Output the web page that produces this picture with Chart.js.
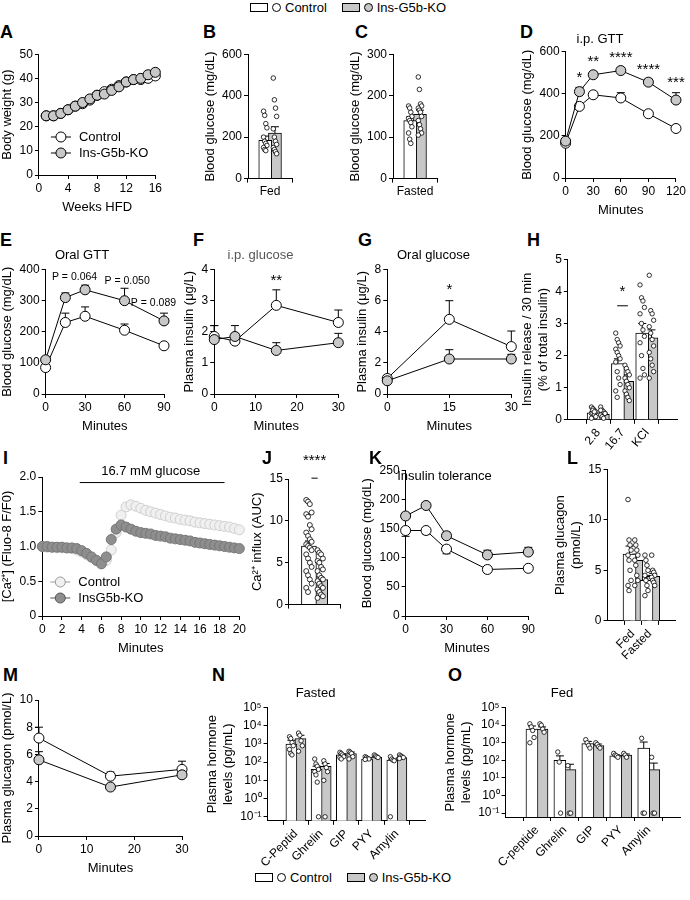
<!DOCTYPE html>
<html><head><meta charset="utf-8">
<script src="https://cdn.jsdelivr.net/npm/chart.js@4/dist/chart.umd.min.js"></script>
<style>
body{margin:0;background:#fff;font-family:"Liberation Sans",Arial,sans-serif;}
#root{position:relative;width:690px;height:900px;overflow:hidden;}
canvas{position:absolute;}
.lab{position:absolute;font-weight:bold;font-size:18px;}
.leg{position:absolute;font-size:13px;display:flex;align-items:center;gap:4px;}
.box{display:inline-block;width:16px;height:7px;border:1px solid #000;}
.dot{display:inline-block;width:7px;height:7px;border:1px solid #000;border-radius:50%;}
</style></head><body><div id="root">
<div class="leg" style="left:250px;top:0px"><span class="box"></span><span class="dot"></span>Control&nbsp;&nbsp;&nbsp;<span class="box" style="background:#c8c8c8"></span><span class="dot" style="background:#c8c8c8"></span>Ins-G5b-KO</div>
<div class="leg" style="left:255px;top:870px"><span class="box"></span><span class="dot"></span>Control&nbsp;&nbsp;&nbsp;<span class="box" style="background:#c8c8c8"></span><span class="dot" style="background:#c8c8c8"></span>Ins-G5b-KO</div>
</div>
<script>
// ---------- DATA ----------
const A_weeks=[1,2,3,4,5,6,7,8,9,10,11,12,13,14,15,16];
const A_ctrl=[24.5,24.5,25.5,27,28.5,29.5,31,33,34.5,35.5,37,38.5,39.5,39.5,40,41];
const A_ko=[24.5,24.5,25.5,27,28.5,30,31.5,33,33.5,35,36.5,38.5,39.5,40,41.5,42.5];
const B_ctrl=[185],B_ctrlErr=[20],B_ko=[220],B_koErr=[30];
const B_ctrlDots=[[325,305,265,245,200,180,170,160,150,140,135]];
const B_koDots=[[485,380,340,300,240,200,180,165,150,140,130,120]];
const C_ctrl=[140],C_ctrlErr=[9],C_ko=[155],C_koErr=[10];
const C_ctrlDots=[[175,170,160,150,145,140,135,125,110,95,85]];
const C_koDots=[[245,215,180,175,170,165,160,150,140,130,120,110,105]];
const D_t=[0,15,30,60,90,120];
const D_ctrl=[165,340,395,380,305,235],D_ctrlErr=[10,10,15,25,15,15];
const D_ko=[175,410,490,510,455,370],D_koErr=[10,20,15,15,15,35];
const E_t=[0,15,30,60,90];
const E_ctrl=[85,230,250,205,155],E_ctrlErr=[5,30,30,20,5];
const E_ko=[110,310,335,300,235],E_koErr=[10,15,15,40,25];
const F_t=[0,5,15,30];
const F_ctrl=[1.85,1.7,2.85,2.3],F_ctrlErr=[0.35,0.5,0.5,0.4];
const F_ko=[1.75,1.85,1.4,1.65],F_koErr=[0.45,0.1,0.25,0.3];
const G_t=[0,15,30];
const G_ctrl=[1.0,4.8,3.05],G_ctrlErr=[0.2,1.2,1.0];
const G_ko=[0.85,2.25,2.25],G_koErr=[0.2,0.6,0.3];
const H_cats=['2.8','16.7','KCl'];
const H_ctrl=[0.22,1.75,2.7],H_ctrlErr=[0.05,0.15,0.3],H_ko=[0.17,1.2,2.55],H_koErr=[0.05,0.2,0.25];
const H_ctrlDots=[[0.4,0.35,0.3,0.25,0.2,0.2,0.15,0.1,0.05,0.3,0.25],[2.7,2.5,2.4,2.3,2.2,2.1,2.0,1.9,1.8,1.5,1.3,1.1,0.9,0.7],[4.2,3.8,3.7,3.5,3.3,3.0,2.8,2.6,2.4,2.0,1.6,1.4,1.3]];
const H_koDots=[[0.4,0.3,0.25,0.2,0.15,0.1,0.05,0.2,0.3],[1.7,1.6,1.5,1.4,1.3,1.2,1.1,1.0,0.9,0.8,0.7,0.6],[4.5,3.4,3.3,3.1,2.9,2.7,2.5,2.3,2.1,1.9,1.7,1.5,1.3]];
const I_t=[0,0.5,1,1.5,2,2.5,3,3.5,4,4.5,5,5.5,6,6.5,7,7.5,8,8.5,9,9.5,10,10.5,11,11.5,12,12.5,13,13.5,14,14.5,15,15.5,16,16.5,17,17.5,18,18.5,19,19.5,20];
const I_ctrl=[1.0,0.99,0.99,0.98,0.98,0.98,0.97,0.95,0.92,0.88,0.84,0.8,0.76,0.8,0.95,1.2,1.45,1.57,1.6,1.58,1.55,1.52,1.5,1.48,1.46,1.44,1.42,1.41,1.39,1.38,1.37,1.35,1.34,1.33,1.32,1.31,1.3,1.29,1.28,1.26,1.24];
const I_ko=[1.0,1.0,0.99,0.99,0.99,0.98,0.98,0.97,0.94,0.9,0.85,0.8,0.75,0.85,1.1,1.25,1.31,1.28,1.25,1.22,1.2,1.19,1.18,1.16,1.15,1.14,1.12,1.11,1.1,1.09,1.08,1.06,1.05,1.04,1.03,1.02,1.01,1.0,0.99,0.98,0.97];
const J_ctrl=[7.0],J_ctrlErr=[0.6],J_ko=[3.0],J_koErr=[0.3];
const J_ctrlDots=[[12.5,12.3,12.0,11.0,10.8,10.5,9.5,9.0,8.6,8.2,7.8,7.5,7.2,7.0,6.8,6.5,6.0,5.5,5.0,4.5,4.0,3.5,3.0,2.5,2.0,1.5]];
const J_koDots=[[6.5,6.2,6.0,5.5,5.2,5.0,4.5,4.2,4.0,3.5,3.2,3.0,2.8,2.5,2.2,2.0,1.8,1.5,1.2,1.0,0.8]];
const K_t=[0,15,30,60,90];
const K_ctrl=[147,147,115,80,82],K_ctrlErr=[-10,-6,-8,-3,-3];
const K_ko=[172,190,138,105,110],K_koErr=[5,5,6,8,8];
const L_cats=['Fed','Fasted'];
const L_ctrl=[6.6,4.0],L_ctrlErr=[0.8,0.5],L_ko=[6.0,4.4],L_koErr=[0.6,0.3];
const L_ctrlDots=[[12,8,7.5,7,6.5,6,5,4,3.5,3],[6.5,6,5.5,5,4.5,4,3.5,3,2.5]];
const L_koDots=[[8,7.5,7,6.5,6,5.5,4.5,4,3.5],[6.5,5,4.8,4.5,4.3,4,3.8,3.5]];
const M_t=[0,15,30];
const M_ctrl=[7.2,4.4,4.9],M_ctrlErr=[0.8,0.3,0.6],M_ko=[5.6,3.6,4.5],M_koErr=[0.6,0.2,0.2];
const N_cats=['C-Peptid','Ghrelin','GIP','PYY','Amylin'];
const N_ctrl=[1000,40,250,150,130],N_ctrlErr=[600,20,40,15,15];
const N_ko=[2000,60,300,190,180],N_koErr=[1000,25,60,20,20];
const N_ctrlDots=[[2500,2000,1200,800,500,300,250],[150,80,60,40,30,20,8,0.1],[350,300,250,200,180,150],[200,180,160,150,140],[200,150,130,120,0.1]];
const N_koDots=[[4000,3000,1500,800,400],[120,80,50,30,10,0.1],[400,350,300,200,150],[250,220,200,180],[250,220,200,180,160]];
const O_cats=['C-peptide','Ghrelin','GIP','PYY','Amylin'];
const O_ctrl=[6000,100,900,180,500],O_ctrlErr=[3000,80,300,30,600];
const O_ko=[6000,30,700,200,30],O_koErr=[2000,30,150,30,40];
const O_ctrlDots=[[12000,8000,5000,2000,1000],[300,80,0.1],[1500,1000,700,500],[250,200,180,150],[1800,0.1,0.1]];
const O_koDots=[[12000,10000,6000,4000],[50,0.1,0.1],[1000,800,600,500],[250,200,150],[150,0.1,0.1]];
const logTicks=[0.1,1,10,100,1000,10000,100000];
const logLabels={0.1:'10⁻¹',1:'10⁰',10:'10¹',100:'10²',1000:'10³',10000:'10⁴',100000:'10⁵'};

// ---------- RENDERING ----------
const FONT='"Liberation Sans", Arial, sans-serif';
Chart.defaults.font.family=FONT;Chart.defaults.font.size=12;Chart.defaults.color='#000';
Chart.defaults.animation=false;
const TF=13;
const KO='#c8c8c8';
const EXTRA={};
const extras={id:'extras',
 beforeDatasetsDraw(chart){const c=chart.ctx,xs=chart.scales.x,ys=chart.scales.y;
  c.save();c.strokeStyle='#000';c.lineWidth=1;
  chart.data.datasets.forEach(ds=>{if(!ds.err)return;ds.data.forEach((p,i)=>{const e=ds.err[i];if(!e)return;
   const x=xs.getPixelForValue(p.x),y0=ys.getPixelForValue(p.y),y1=ys.getPixelForValue(p.y+e);
   c.beginPath();c.moveTo(x,y0);c.lineTo(x,y1);c.moveTo(x-4,y1);c.lineTo(x+4,y1);c.stroke();});});
  c.restore();},
 afterDraw(chart){const ex=EXTRA[chart.canvas.id];if(!ex)return;const c=chart.ctx,xs=chart.scales.x,ys=chart.scales.y;
  c.save();c.fillStyle='#000';c.strokeStyle='#000';c.lineWidth=1;c.textAlign='center';c.textBaseline='bottom';
  (ex.notes||[]).forEach(n=>{c.font=(n.size||12)+'px '+FONT;c.fillText(n.t,xs.getPixelForValue(n.x),ys.getPixelForValue(n.y));});
  (ex.lines||[]).forEach(l=>{const y=ys.getPixelForValue(l.y);c.beginPath();c.moveTo(xs.getPixelForValue(l.x1),y);c.lineTo(xs.getPixelForValue(l.x2),y);c.stroke();});
  if(ex.leg){const L=ex.leg;let x=chart.chartArea.left+L.dx,y=chart.chartArea.bottom-L.dy;
   L.items.forEach((it,k)=>{const yy=y+k*16;c.strokeStyle=it.stroke||'#000';c.beginPath();c.moveTo(x,yy);c.lineTo(x+20,yy);c.stroke();
    c.beginPath();c.arc(x+10,yy,5,0,Math.PI*2);c.fillStyle=it.fill;c.fill();c.stroke();
    c.fillStyle='#000';c.font='13px '+FONT;c.textAlign='left';c.textBaseline='middle';c.fillText(it.t,x+28,yy);});}
  c.restore();}};
Chart.register(extras);
function canvas(id,r){const cv=document.createElement('canvas');cv.id=id;cv.width=r[2];cv.height=r[3];
 cv.style.left=r[0]+'px';cv.style.top=r[1]+'px';cv.style.width=r[2]+'px';cv.style.height=r[3]+'px';
 document.getElementById('root').appendChild(cv);return cv;}
function label(t,x,y){const d=document.createElement('div');d.className='lab';d.textContent=t;d.style.left=x+'px';d.style.top=y+'px';document.getElementById('root').appendChild(d);}
function axisBase(){return {grid:{drawOnChartArea:false,color:'#000',tickLength:4,tickColor:'#000'},border:{color:'#000',width:1},ticks:{color:'#000',padding:2}};}
function yAxis(o){const a=axisBase();a.min=o.ymin;a.max=o.ymax;
 if(o.log){a.type='logarithmic';a.afterBuildTicks=s=>{s.ticks=logTicks.map(v=>({value:v}));};a.ticks.callback=v=>logLabels[v]||'';}
 else{a.ticks.stepSize=o.ystep;}
 a.title={display:true,text:o.ytitle,font:{size:TF},padding:{top:0,bottom:2}};return a;}
function titlePlug(o){return o.title?{display:true,text:o.title,color:o.titleColor||'#000',font:{size:TF,weight:'normal'},padding:{top:0,bottom:o.titlePad||6}}:{display:false};}
function linePanel(id,r,o){const cv=canvas(id,r);EXTRA[id]=o.extra||{};
 const pr=o.pr||5;
 const mk=(ys,err,fill,bc)=>({type:'line',data:o.xs.map((x,i)=>({x,y:ys[i]})),err,borderColor:bc||'#000',borderWidth:o.lw===undefined?1:o.lw,showLine:o.lw!==0,
  pointRadius:pr,pointBackgroundColor:fill,pointBorderColor:bc||'#000',pointBorderWidth:1});
 const xa=axisBase();xa.type='linear';xa.min=o.xmin;xa.max=o.xmax;xa.afterBuildTicks=s=>{s.ticks=o.xticks.map(v=>({value:v}));};
 xa.title={display:!!o.xtitle,text:o.xtitle,font:{size:TF},padding:{top:2}};xa.ticks.maxRotation=0;
 new Chart(cv,{type:'line',data:{datasets:[mk(o.ko,o.koErr,o.koFill||KO,o.koBc),mk(o.ctrl,o.ctrlErr,o.ctrlFill||'#fff',o.ctrlBc)]},
  options:{responsive:false,clip:false,layout:{padding:o.pad||{top:8,right:8}},plugins:{legend:{display:false},tooltip:{enabled:false},title:titlePlug(o)},
   scales:{x:xa,y:yAxis(o)}}});}
function barPanel(id,r,o){const cv=canvas(id,r);EXTRA[id]=o.extra||{};
 const n=o.cats.length,off=o.off||0.2,bw=o.bw||12;const ds=[];
 const bar=(vals,err,fill,dx)=>({type:'bar',grouped:false,data:vals.map((v,i)=>({x:i+dx,y:v})),err,backgroundColor:fill,borderColor:'#000',borderWidth:1,barThickness:bw,order:2});
 const dots=(arr,fill,dx)=>{const d=[];arr.forEach((g,i)=>g.forEach((v,k)=>d.push({x:i+dx+((k%4)-1.5)*(o.jit||0.05),y:v})));
  return {type:'scatter',data:d,pointRadius:o.dr||2.3,pointBackgroundColor:fill,pointBorderColor:'#000',pointBorderWidth:0.8,order:1};};
 ds.push(bar(o.ctrl,o.ctrlErr,'#fff',-off),bar(o.ko,o.koErr,KO,off));
 ds.push(dots(o.ctrlDots,'#fff',-off),dots(o.koDots,'#fff',off));
 const xa=axisBase();xa.type='linear';xa.min=-0.5;xa.max=n-0.5;xa.afterBuildTicks=s=>{s.ticks=o.cats.map((c,i)=>({value:i}));};
 xa.ticks.callback=v=>o.cats[Math.round(v)];xa.ticks.font={size:o.xfs||12};
 if(o.rot){xa.ticks.minRotation=o.rot;xa.ticks.maxRotation=o.rot;}else xa.ticks.maxRotation=0;
 new Chart(cv,{type:'bar',data:{datasets:ds},options:{responsive:false,clip:false,layout:{padding:o.pad||{top:8,right:4}},
  plugins:{legend:{display:false},tooltip:{enabled:false},title:titlePlug(o)},scales:{x:xa,y:yAxis(o)}}});}

// Row 1
label('A',0,22);label('B',203,22);label('C',355,22);label('D',520,22);
linePanel('A',[0,45,164,174],{xs:A_weeks,ctrl:A_ctrl,ko:A_ko,ctrlErr:A_ctrl.map(()=>1),koErr:A_ko.map(()=>1.2),pr:5,
 xmin:0,xmax:16,xticks:[0,4,8,12,16],ymin:0,ymax:50,ystep:10,xtitle:'Weeks HFD',ytitle:'Body weight (g)',
 extra:{leg:{dx:12,dy:38,items:[{t:'Control',fill:'#fff'},{t:'Ins-G5b-KO',fill:KO}]}}});
barPanel('B',[203,45,94,174],{cats:['Fed'],ctrl:B_ctrl,ctrlErr:B_ctrlErr,ko:B_ko,koErr:B_koErr,ctrlDots:B_ctrlDots,koDots:B_koDots,
 ymin:0,ymax:600,ystep:200,ytitle:'Blood glucose (mg/dL)',off:0.22,bw:13,pad:{top:8,right:4,bottom:18}});
barPanel('C',[348,45,94,174],{cats:['Fasted'],ctrl:C_ctrl,ctrlErr:C_ctrlErr,ko:C_ko,koErr:C_koErr,ctrlDots:C_ctrlDots,koDots:C_koDots,
 ymin:0,ymax:300,ystep:100,ytitle:'Blood glucose (mg/dL)',off:0.22,bw:13,pad:{top:8,right:4,bottom:18}});
linePanel('D',[520,24,168,198],{xs:D_t,ctrl:D_ctrl,ko:D_ko,ctrlErr:D_ctrlErr,koErr:D_koErr,xmin:0,xmax:120,xticks:[0,30,60,90,120],
 ymin:0,ymax:600,ystep:200,xtitle:'Minutes',ytitle:'Blood glucose (mg/dL)',title:'i.p. GTT',titlePad:4,
 extra:{notes:[{t:'*',x:15,y:440,size:15},{t:'**',x:30,y:515,size:15},{t:'****',x:60,y:535,size:15},{t:'****',x:90,y:480,size:15},{t:'***',x:120,y:415,size:15}]}});
// Row 2
label('E',0,230);label('F',193,230);label('G',358,230);label('H',527,230);
linePanel('E',[0,240,182,198],{xs:E_t,ctrl:E_ctrl,ko:E_ko,ctrlErr:E_ctrlErr,koErr:E_koErr,xmin:0,xmax:90,xticks:[0,30,60,90],
 ymin:0,ymax:400,ystep:100,xtitle:'Minutes',ytitle:'Blood glucose (mg/dL)',title:'Oral GTT',pad:{top:8,right:18},
 extra:{notes:[{t:'P = 0.064',x:22,y:360,size:10.5},{t:'P = 0.050',x:62,y:345,size:10.5},{t:'P = 0.089',x:82,y:275,size:10.5}]}});
linePanel('F',[182,240,165,198],{xs:F_t,ctrl:F_ctrl,ko:F_ko,ctrlErr:F_ctrlErr,koErr:F_koErr,xmin:0,xmax:30,xticks:[0,10,20,30],
 ymin:0,ymax:4,ystep:1,xtitle:'Minutes',ytitle:'Plasma insulin (μg/L)',title:'i.p. glucose',titleColor:'#555',
 extra:{notes:[{t:'**',x:15,y:3.4,size:15}]}});
linePanel('G',[355,240,165,198],{xs:G_t,ctrl:G_ctrl,ko:G_ko,ctrlErr:G_ctrlErr,koErr:G_koErr,xmin:0,xmax:30,xticks:[0,15,30],
 ymin:0,ymax:8,ystep:2,xtitle:'Minutes',ytitle:'Plasma insulin (μg/L)',title:'Oral glucose',
 extra:{notes:[{t:'*',x:15,y:6.2,size:15}]}});
barPanel('H',[520,250,162,205],{cats:H_cats,ctrl:H_ctrl,ctrlErr:H_ctrlErr,ko:H_ko,koErr:H_koErr,ctrlDots:H_ctrlDots,koDots:H_koDots,
 ymin:0,ymax:5,ystep:1,ytitle:['Insulin release / 30 min','(% of total insulin)'],rot:50,bw:13,off:0.19,jit:0.06,dr:2.2,pad:{top:8,right:4},
 extra:{notes:[{t:'*',x:1,y:3.75,size:15}],lines:[{x1:0.78,x2:1.22,y:3.55}]}});
// Row 3
label('I',3,448);label('J',262,448);label('K',369,448);label('L',567,448);
linePanel('I',[0,455,248,205],{xs:I_t,ctrl:I_ctrl,ko:I_ko,lw:0,pr:5,xmin:0,xmax:20,xticks:[0,2,4,6,8,10,12,14,16,18,20],
 ymin:0,ymax:2,ystep:0.5,xtitle:'Minutes',ytitle:'[Ca²⁺] (Fluo-8 F/F0)',ctrlFill:'#f0f0f0',ctrlBc:'#cfcfcf',koFill:'#8e8e8e',koBc:'#777',
 pad:{top:22,right:6},
 extra:{notes:[{t:'16.7 mM glucose',x:11,y:1.99,size:13}],lines:[{x1:3.8,x2:18.5,y:1.92}],
  leg:{dx:8,dy:34,items:[{t:'Control',fill:'#f0f0f0',stroke:'#999'},{t:'InsG5b-KO',fill:'#8e8e8e',stroke:'#555'}]}}});
barPanel('J',[250,455,95,172],{cats:[''],ctrl:J_ctrl,ctrlErr:J_ctrlErr,ko:J_ko,koErr:J_koErr,ctrlDots:J_ctrlDots,koDots:J_koDots,
 ymin:0,ymax:15,ystep:5,ytitle:'Ca²⁺ influx (AUC)',off:0.22,bw:15,jit:0.07,dr:2.5,pad:{top:24,right:4},
 extra:{notes:[{t:'****',x:0,y:16.3,size:15}],lines:[{x1:-0.12,x2:0.12,y:15.1}]}});
linePanel('K',[360,455,177,205],{xs:K_t,ctrl:K_ctrl,ko:K_ko,ctrlErr:K_ctrlErr,koErr:K_koErr,xmin:0,xmax:90,xticks:[0,30,60,90],
 ymin:0,ymax:250,ystep:50,xtitle:'Minutes',ytitle:'Blood glucose (mg/dL)',title:'Insulin tolerance',titlePad:-14,pad:{top:14,right:8}});
barPanel('L',[553,460,127,205],{cats:L_cats,ctrl:L_ctrl,ctrlErr:L_ctrlErr,ko:L_ko,koErr:L_koErr,ctrlDots:L_ctrlDots,koDots:L_koDots,
 ymin:0,ymax:15,ystep:5,ytitle:['Plasma glucagon','(pmol/L)'],rot:45,bw:13,off:0.2,jit:0.06,pad:{top:8,right:4}});
// Row 4
label('M',3,665);label('N',212,665);label('O',448,665);
linePanel('M',[0,690,192,190],{xs:M_t,ctrl:M_ctrl,ko:M_ko,ctrlErr:M_ctrlErr,koErr:M_koErr,xmin:0,xmax:30,xticks:[0,10,20,30],
 ymin:0,ymax:10,ystep:2,xtitle:'Minutes',ytitle:'Plasma glucagon (pmol/L)',pad:{top:10,right:10}});
barPanel('N',[205,680,225,192],{cats:N_cats,ctrl:N_ctrl,ctrlErr:N_ctrlErr,ko:N_ko,koErr:N_koErr,ctrlDots:N_ctrlDots,koDots:N_koDots,
 log:true,ymin:0.06,ymax:100000,ytitle:['Plasma hormone','levels (pg/mL)'],title:'Fasted',rot:45,bw:11,off:0.18,jit:0.05,dr:2.2,pad:{top:6,right:4}});
barPanel('O',[443,680,242,192],{cats:O_cats,ctrl:O_ctrl,ctrlErr:O_ctrlErr,ko:O_ko,koErr:O_koErr,ctrlDots:O_ctrlDots,koDots:O_koDots,
 log:true,ymin:0.06,ymax:100000,ytitle:['Plasma hormone','levels (pg/mL)'],title:'Fed',rot:45,bw:12,off:0.18,jit:0.05,dr:2.2,pad:{top:6,right:4}});
</script></body></html>
